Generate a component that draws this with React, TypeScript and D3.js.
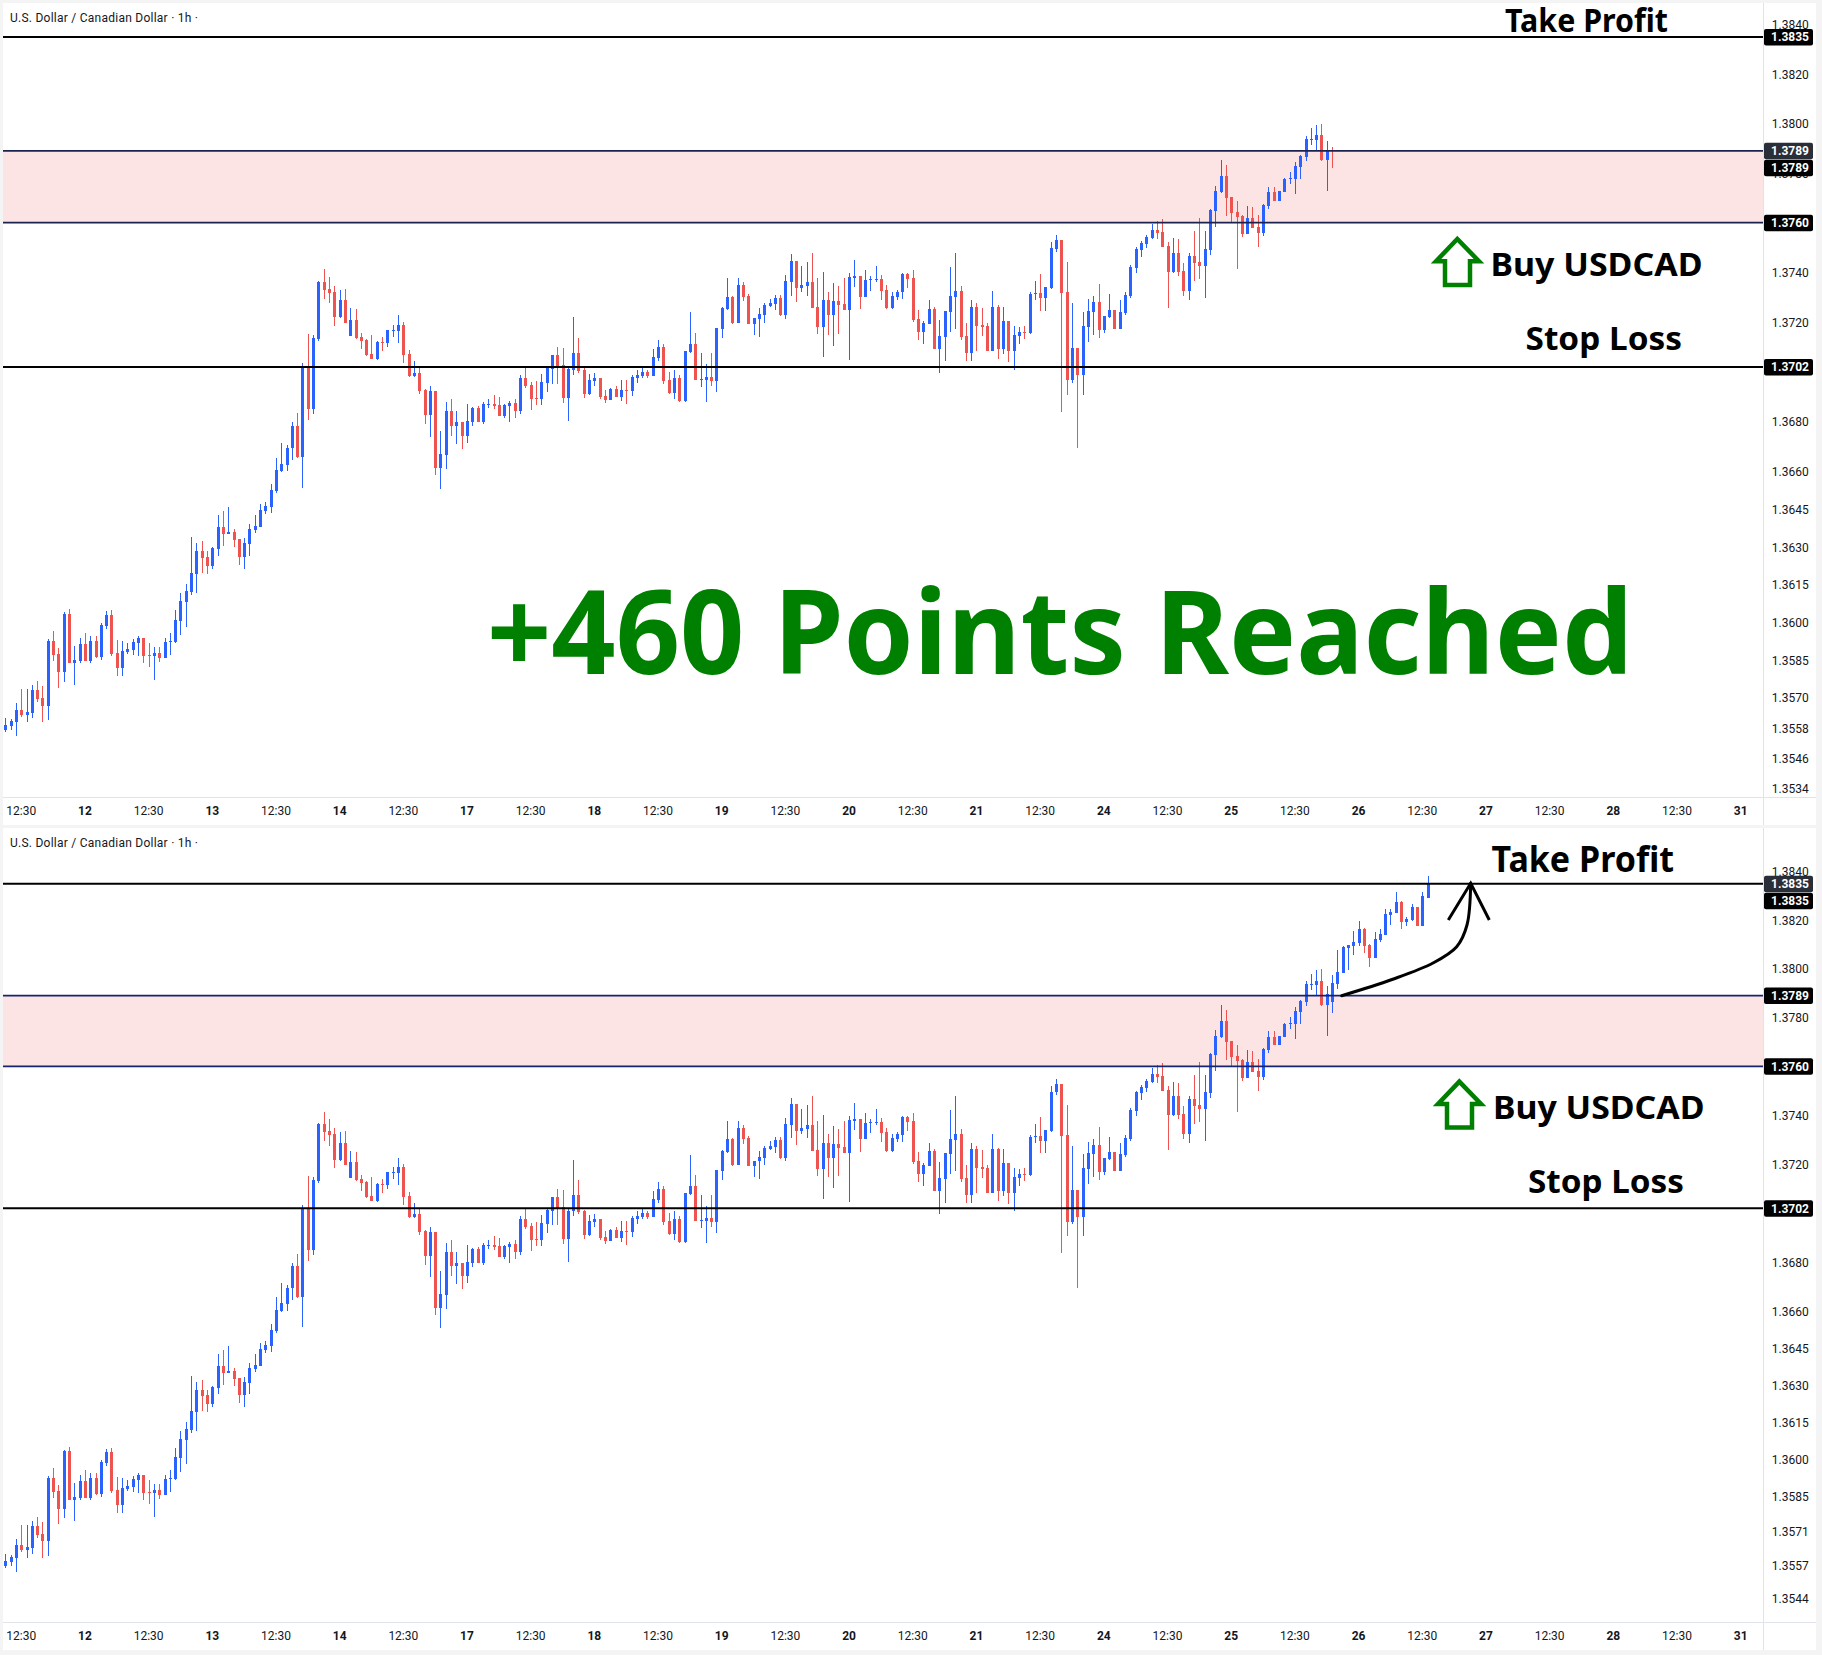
import React from "react";
import * as d3 from "d3";

// Hourly USD/CAD candles (price × 100000)
const highs = [
  135618,135614,135677,135733,135733,135749,135765,135745,135932,135964,
  135896,136040,136052,135904,135936,135956,135944,135944,135996,136044,
  136048,135928,135924,135916,135932,135944,135936,135916,135900,135900,
  135936,135956,136048,136116,136151,136339,136315,136323,136283,136299,
  136426,136442,136458,136371,136331,136335,136390,136426,136470,136478,
  136550,136657,136717,136709,136799,136835,137035,137151,137147,137367,
  137415,137383,137347,137331,137335,137255,137251,137155,137131,137147,
  137123,137139,137167,137187,137227,137199,137087,137043,137023,136931,
  136943,136923,136763,136879,136891,136843,136799,136871,136858,136862,
  136878,136890,136906,136898,136870,136882,136890,136987,137019,136959,
  136963,136991,137019,137067,137099,137095,137019,137219,137135,137015,
  136991,136995,136975,136926,136934,136942,136967,136967,136987,137007,
  137019,137007,137091,137127,137111,136999,137007,136987,137083,137239,
  137155,137075,137031,137075,137175,137259,137376,137307,137376,137360,
  137315,137215,137255,137275,137295,137311,137311,137388,137472,137444,
  137424,137440,137480,137376,137400,137323,137356,137344,137376,137396,
  137448,137384,137408,137384,137424,137388,137348,137323,137331,137397,
  137397,137409,137248,137204,137288,137260,137208,137244,137421,137477,
  137344,137196,137288,137276,137256,137196,137324,137268,137260,137204,
  137184,137180,137184,137320,137365,137393,137340,137521,137549,137529,
  137441,137276,137095,137240,137292,137304,137352,137224,137312,137248,
  137288,137320,137429,137501,137525,137549,137594,137606,137614,137521,
  137537,137533,137437,137477,137566,137618,137566,137654,137747,137851,
  137831,137702,137686,137630,137666,137662,137630,137674,137743,137743,
  137726,137779,137803,137843,137871,137948,137980,137996,138000,137928,
  137975,138077,138093,138097,138155,138196,138167,138101,138151,138163,
  138245,138245,138314,138277,138212,138265,138253,138314,138380,
].map((v) => v / 100000);

const bodyTops = [
  135590,135606,135653,135653,135645,135729,135729,135697,135924,135924,
  135873,136032,136032,135849,135912,135912,135924,135924,135988,136028,
  136028,135876,135884,135892,135920,135936,135936,135869,135876,135876,
  135920,135924,136008,136084,136124,136195,136283,136283,136259,136295,
  136378,136378,136359,136359,136331,136315,136371,136382,136446,136462,
  136526,136606,136633,136697,136783,136783,137023,137023,137135,137363,
  137363,137335,137323,137287,137287,137207,137207,137139,137127,137071,
  137119,137119,137167,137167,137187,137187,137071,136995,136995,136927,
  136923,136923,136671,136843,136843,136799,136799,136803,136854,136854,
  136870,136870,136870,136866,136866,136874,136874,136975,136975,136946,
  136894,136959,137015,137067,137067,137027,137011,137075,137075,137007,
  136967,136975,136975,136902,136930,136930,136926,136926,136979,136987,
  136999,136999,137059,137099,137099,136967,136975,136975,137083,137111,
  137111,136971,136979,136979,137175,137255,137303,137303,137348,137348,
  137307,137215,137231,137267,137275,137299,137299,137364,137444,137444,
  137348,137360,137360,137259,137287,137287,137283,137283,137271,137380,
  137384,137384,137368,137372,137372,137372,137331,137307,137323,137393,
  137393,137377,137212,137196,137252,137252,137143,137244,137304,137324,
  137324,137143,137260,137260,137188,137184,137260,137260,137204,137204,
  137147,137159,137159,137312,137316,137316,137340,137497,137529,137529,
  137320,137095,137095,137184,137244,137280,137280,137224,137248,137248,
  137240,137308,137421,137493,137517,137541,137570,137570,137562,137505,
  137477,137477,137405,137465,137465,137441,137493,137650,137726,137787,
  137787,137702,137642,137626,137618,137618,137582,137670,137722,137722,
  137726,137775,137779,137827,137867,137936,137936,137952,137952,137895,
  137942,137987,138089,138097,138110,138163,138163,138097,138122,138142,
  138224,138232,138273,138273,138204,138253,138253,138298,138347,
].map((v) => v / 100000);

const bodyBottoms = [
  135570,135586,135602,135633,135633,135641,135693,135669,135669,135869,
  135801,135801,135837,135837,135845,135845,135845,135861,135861,135984,
  135873,135817,135817,135880,135888,135916,135865,135865,135865,135857,
  135857,135920,135920,136004,136080,136120,136191,136255,136223,136223,
  136291,136351,136351,136327,136259,136259,136311,136367,136378,136442,
  136458,136522,136602,136629,136695,136659,136659,136851,136851,137131,
  137331,137319,137219,137219,137195,137143,137135,137123,137067,137051,
  137051,137115,137115,137163,137163,137067,136983,136983,136923,136827,
  136827,136615,136615,136667,136783,136783,136743,136743,136798,136798,
  136798,136866,136862,136822,136822,136862,136842,136842,136942,136890,
  136890,136890,136954,137011,137023,136894,136894,137007,137003,136910,
  136910,136963,136898,136886,136886,136898,136898,136922,136922,136975,
  136983,136983,136983,137055,136963,136914,136914,136882,136882,137079,
  136967,136967,136967,136963,136963,137171,137251,137195,137195,137303,
  137191,137191,137211,137227,137263,137271,137227,137227,137360,137336,
  137336,137344,137255,137179,137179,137227,137227,137267,137247,137247,
  137376,137303,137303,137368,137368,137327,137255,137255,137303,137320,
  137373,137208,137159,137159,137192,137091,137091,137139,137240,137300,
  137139,137075,137075,137184,137180,137083,137083,137091,137091,137083,
  137083,137143,137155,137155,137312,137296,137296,137336,137493,137316,
  136966,136966,136986,136986,137180,137240,137167,137167,137220,137171,
  137171,137236,137304,137417,137489,137513,137537,137558,137501,137401,
  137401,137401,137324,137324,137437,137425,137425,137489,137646,137722,
  137698,137638,137622,137554,137554,137578,137558,137558,137666,137686,
  137686,137722,137775,137775,137823,137863,137932,137932,137851,137851,
  137864,137938,137983,138085,138093,138106,138093,138044,138044,138118,
  138138,138220,138228,138192,138192,138200,138175,138175,138290,
].map((v) => v / 100000);

const lows = [
  135562,135570,135546,135625,135602,135618,135681,135602,135610,135845,
  135737,135761,135837,135749,135837,135845,135837,135857,135849,135972,
  135865,135785,135785,135873,135869,135865,135837,135821,135769,135841,
  135857,135869,135916,135948,135980,136108,136116,136195,136191,136211,
  136263,136303,136351,136299,136227,136211,136263,136355,136378,136430,
  136434,136514,136598,136602,136647,136655,136535,136807,136831,137123,
  137295,137275,137183,137215,137195,137143,137131,137091,137063,137051,
  137047,137083,137099,137139,137115,137035,136979,136979,136911,136791,
  136739,136587,136531,136611,136743,136711,136691,136715,136782,136798,
  136790,136854,136850,136822,136814,136798,136814,136830,136934,136846,
  136866,136866,136918,136950,136950,136874,136802,136987,136995,136894,
  136906,136942,136890,136874,136886,136898,136882,136870,136902,136954,
  136975,136975,136983,137043,136950,136910,136890,136878,136878,137075,
  136967,136938,136878,136942,136918,137135,137247,137191,137195,137283,
  137191,137147,137139,137195,137259,137247,137223,137211,137307,137279,
  137323,137307,137255,137151,137059,137147,137103,137151,137247,137047,
  137340,137251,137303,137327,137360,137291,137251,137251,137291,137292,
  137336,137200,137127,137111,137192,137091,136995,137043,137159,137171,
  137127,137043,137043,137083,137143,137083,137083,137051,137071,137039,
  137007,137111,137131,137151,137288,137244,137244,137332,137481,136838,
  136906,136954,136697,136906,137119,137147,137135,137155,137216,137171,
  137171,137228,137296,137397,137461,137497,137533,137533,137501,137256,
  137397,137385,137304,137288,137365,137373,137296,137469,137582,137718,
  137626,137602,137413,137541,137554,137578,137501,137545,137654,137686,
  137686,137722,137755,137714,137775,137847,137915,137891,137847,137726,
  137819,137917,137983,137995,138056,138093,138065,138007,138044,138110,
  138138,138179,138228,138163,138175,138196,138175,138175,138290,
].map((v) => v / 100000);

// b = close above open (blue), r = close below open (red)
const directions = (
  "bbbrbbrrbr" + "rbrbbrbrbb" + "rrbbbbrrbr" + "bbbbbbbrrb" + "brbrrbbbbb" +
  "bbbbbrbrbb" + "rrrbrbrrrr" + "brbbbrrbrr" + "brbbrbrbbr" + "bbrrbbrbrr" +
  "rbbbrrbbrr" + "bbrrbrbrbb" + "brbbrrbrbb" + "rbbrbbbrbr" + "rbbbbbrbbr" +
  "bbrrbrbrrb" + "brbbbrrbbb" + "rrrbbrbbbb" + "rrbrrrbrbr" + "bbrbbrbbbr" +
  "rbrbbbrbbr" + "bbbbbbbrrr" + "brrbrrbbbb" + "rrrrbrrbbr" + "bbbbbbbbrb" +
  "bbbbbbrrbbbbbrbbrbb"
).split("");

// The upper snapshot stops at candle 250, which was still forming
const liveIndex = 250;
const liveHigh = 1.37907;
const liveTop = 1.37895;
const liveBottom = 1.37891;
const liveLow = 1.37819;
const liveDirection = "r";

const timeLabels = [
  "12:30","12","12:30","13","12:30","14","12:30","17","12:30","18","12:30","19","12:30","20",
  "12:30","21","12:30","24","12:30","25","12:30","26","12:30","27","12:30","28","12:30","31",
];
const topTicks = [1.384,1.382,1.38,1.378,1.374,1.372,1.368,1.366,1.3645,1.363,1.3615,1.36,1.3585,1.357,1.3558,1.3546,1.3534];
const bottomTicks = [1.384,1.382,1.38,1.378,1.374,1.372,1.368,1.366,1.3645,1.363,1.3615,1.36,1.3585,1.3571,1.3557,1.3544];
const takeProfit = 1.3835;
const zoneHigh = 1.3789;
const zoneLow = 1.376;
const stopLoss = 1.3702;

const BLUE = "#2962ff";
const RED = "#ef5350";
const GREEN = "#008000";
const AX_FONT = "Roboto, 'Liberation Sans', sans-serif";
const NOTE_FONT = "'Noto Sans', 'Open Sans', sans-serif";

const x = d3.scaleLinear().domain([0, 250]).range([5.3, 1332.05]);
const yTop = d3.scaleLog().domain([1.3835, 1.3702]).range([37, 367]);
const yBottom = d3.scaleLog().domain([1.3835, 1.3702]).range([883.7, 1208.3]);

type Pill = { v: number; off?: number; bg: string };

function Candles({ y, count, live }: { y: any; count: number; live: boolean }) {
  const items = d3.range(count).map((i) => {
    const isLive = live && i === liveIndex;
    return {
      i,
      h: isLive ? liveHigh : highs[i],
      t: isLive ? liveTop : bodyTops[i],
      b: isLive ? liveBottom : bodyBottoms[i],
      l: isLive ? liveLow : lows[i],
      d: isLive ? liveDirection : directions[i],
    };
  });
  return (
    <g shapeRendering="crispEdges">
      {items.map((c) => {
        const cx = Math.round(x(c.i));
        const color = c.d === "b" ? BLUE : RED;
        const top = Math.round(y(c.t));
        const bot = Math.round(y(c.b));
        return (
          <g key={c.i} fill={color}>
            <rect x={cx} y={y(c.h)} width={1} height={Math.max(1, y(c.l) - y(c.h))} />
            <rect x={cx - 1} y={top} width={3} height={Math.max(1, bot - top)} />
          </g>
        );
      })}
    </g>
  );
}

function Note({ text, x0, x1, base, size }: { text: string; x0: number; x1: number; base: number; size: number }) {
  return (
    <text x={x0} y={base} fontFamily={NOTE_FONT} fontWeight={700} fontSize={size} fill="#000"
      textLength={x1 - x0} lengthAdjust="spacingAndGlyphs">{text}</text>
  );
}

function UpArrow({ dx, dy }: { dx: number; dy: number }) {
  const pts = [[1457.3,239],[1436,261.3],[1445,261.3],[1445,285],[1470,285],[1470,261.3],[1479,261.3]]
    .map(([a, b]) => `${a + dx},${b + dy}`).join(" ");
  return <polygon points={pts} fill="none" stroke={GREEN} strokeWidth={4.5} strokeLinejoin="miter" />;
}

function Panel({ top, y, ticks, count, live, zoneLine, pills }: {
  top: number; y: any; ticks: number[]; count: number; live: boolean; zoneLine: string; pills: Pill[];
}) {
  const axisY = top + 794.5;
  const bottom = top + 822;
  return (
    <g>
      <rect x={3} y={top} width={1813} height={822} fill="#ffffff" />
      <rect x={3} y={y(zoneHigh)} width={1760} height={y(zoneLow) - y(zoneHigh)} fill="#fde4e4" />
      <Candles y={y} count={count} live={live} />
      <line x1={3} x2={1763} y1={y(takeProfit)} y2={y(takeProfit)} stroke="#000" strokeWidth={2} />
      <line x1={3} x2={1763} y1={y(stopLoss)} y2={y(stopLoss)} stroke="#000" strokeWidth={2} />
      <line x1={3} x2={1763} y1={y(zoneHigh)} y2={y(zoneHigh)} stroke={zoneLine} strokeWidth={1.8} />
      <line x1={3} x2={1763} y1={y(zoneLow)} y2={y(zoneLow)} stroke={zoneLine} strokeWidth={1.8} />
      <line x1={1763.5} x2={1763.5} y1={top} y2={bottom} stroke="#e0e3eb" />
      <line x1={3} x2={1816} y1={axisY} y2={axisY} stroke="#e0e3eb" />
      <text x={10} y={top + 18.5} fontFamily={AX_FONT} fontSize={12} fill="#131722" textLength={188}>
        U.S. Dollar / Canadian Dollar · 1h ·
      </text>
      {timeLabels.map((label, k) => (
        <text key={k} x={x(3 + 12 * k)} y={top + 811.5} textAnchor="middle" fontFamily={AX_FONT} fontSize={12}
          fontWeight={label === "12:30" ? 400 : 700} fill="#131722">{label}</text>
      ))}
      {ticks.map((t) => (
        <text key={t} x={1790.3} y={y(t) + 4.6} textAnchor="middle" fontFamily={AX_FONT} fontSize={12} fill="#131722">
          {t.toFixed(4)}
        </text>
      ))}
      {pills.map((p, k) => {
        const py = y(p.v) + (p.off ?? 0);
        return (
          <g key={k}>
            <rect x={1764} y={py - 8} width={49} height={16.5} rx={2} fill={p.bg} />
            <text x={1790} y={py + 4.4} textAnchor="middle" fontFamily={AX_FONT} fontSize={12} fontWeight={700} fill="#fff">
              {p.v.toFixed(4)}
            </text>
          </g>
        );
      })}
    </g>
  );
}

export default function App() {
  const curve = d3.line().curve(d3.curveCatmullRom.alpha(0.5))([
    [1341.7, 995.7], [1392, 979.5], [1433, 963], [1456.7, 946.7], [1467, 925], [1470.7, 883.3],
  ] as [number, number][]) as string;
  return (
    <svg width={1822} height={1655} viewBox="0 0 1822 1655"
      style={{ position: "absolute", left: 0, top: 0, display: "block", background: "#f4f4f4" }}>
      <Panel top={3} y={yTop} ticks={topTicks} count={251} live={true} zoneLine="#1a2350"
        pills={[
          { v: takeProfit, bg: "#000" },
          { v: zoneHigh, bg: "#2a2e39" },
          { v: zoneHigh, off: 17, bg: "#000" },
          { v: zoneLow, bg: "#000" },
          { v: stopLoss, bg: "#000" },
        ]} />
      <Panel top={828} y={yBottom} ticks={bottomTicks} count={269} live={false} zoneLine="#14246e"
        pills={[
          { v: takeProfit, bg: "#2a2e39" },
          { v: takeProfit, off: 17, bg: "#000" },
          { v: zoneHigh, bg: "#000" },
          { v: zoneLow, bg: "#000" },
          { v: stopLoss, bg: "#000" },
        ]} />

      <Note text="Take Profit" x0={1505} x1={1668} base={31.7} size={32} />
      <Note text="Buy USDCAD" x0={1490.5} x1={1702.5} base={276} size={33} />
      <Note text="Stop Loss" x0={1525.5} x1={1682} base={350} size={33} />
      <UpArrow dx={0} dy={0} />

      <Note text="Take Profit" x0={1491.5} x1={1674} base={871.7} size={35} />
      <Note text="Buy USDCAD" x0={1493} x1={1704.5} base={1119.3} size={33} />
      <Note text="Stop Loss" x0={1528} x1={1684} base={1193} size={33} />
      <UpArrow dx={2} dy={842.6} />

      <path d={curve} fill="none" stroke="#000" strokeWidth={3} strokeLinecap="round" />
      <polyline points="1448.3,920 1470.7,883.3 1489.3,920" fill="none" stroke="#000" strokeWidth={3} />

      <text x={487} y={674} fontFamily={NOTE_FONT} fontWeight={700} fontSize={116} fill={GREEN}
        textLength={1146} lengthAdjust="spacingAndGlyphs">+460 Points Reached</text>
    </svg>
  );
}
